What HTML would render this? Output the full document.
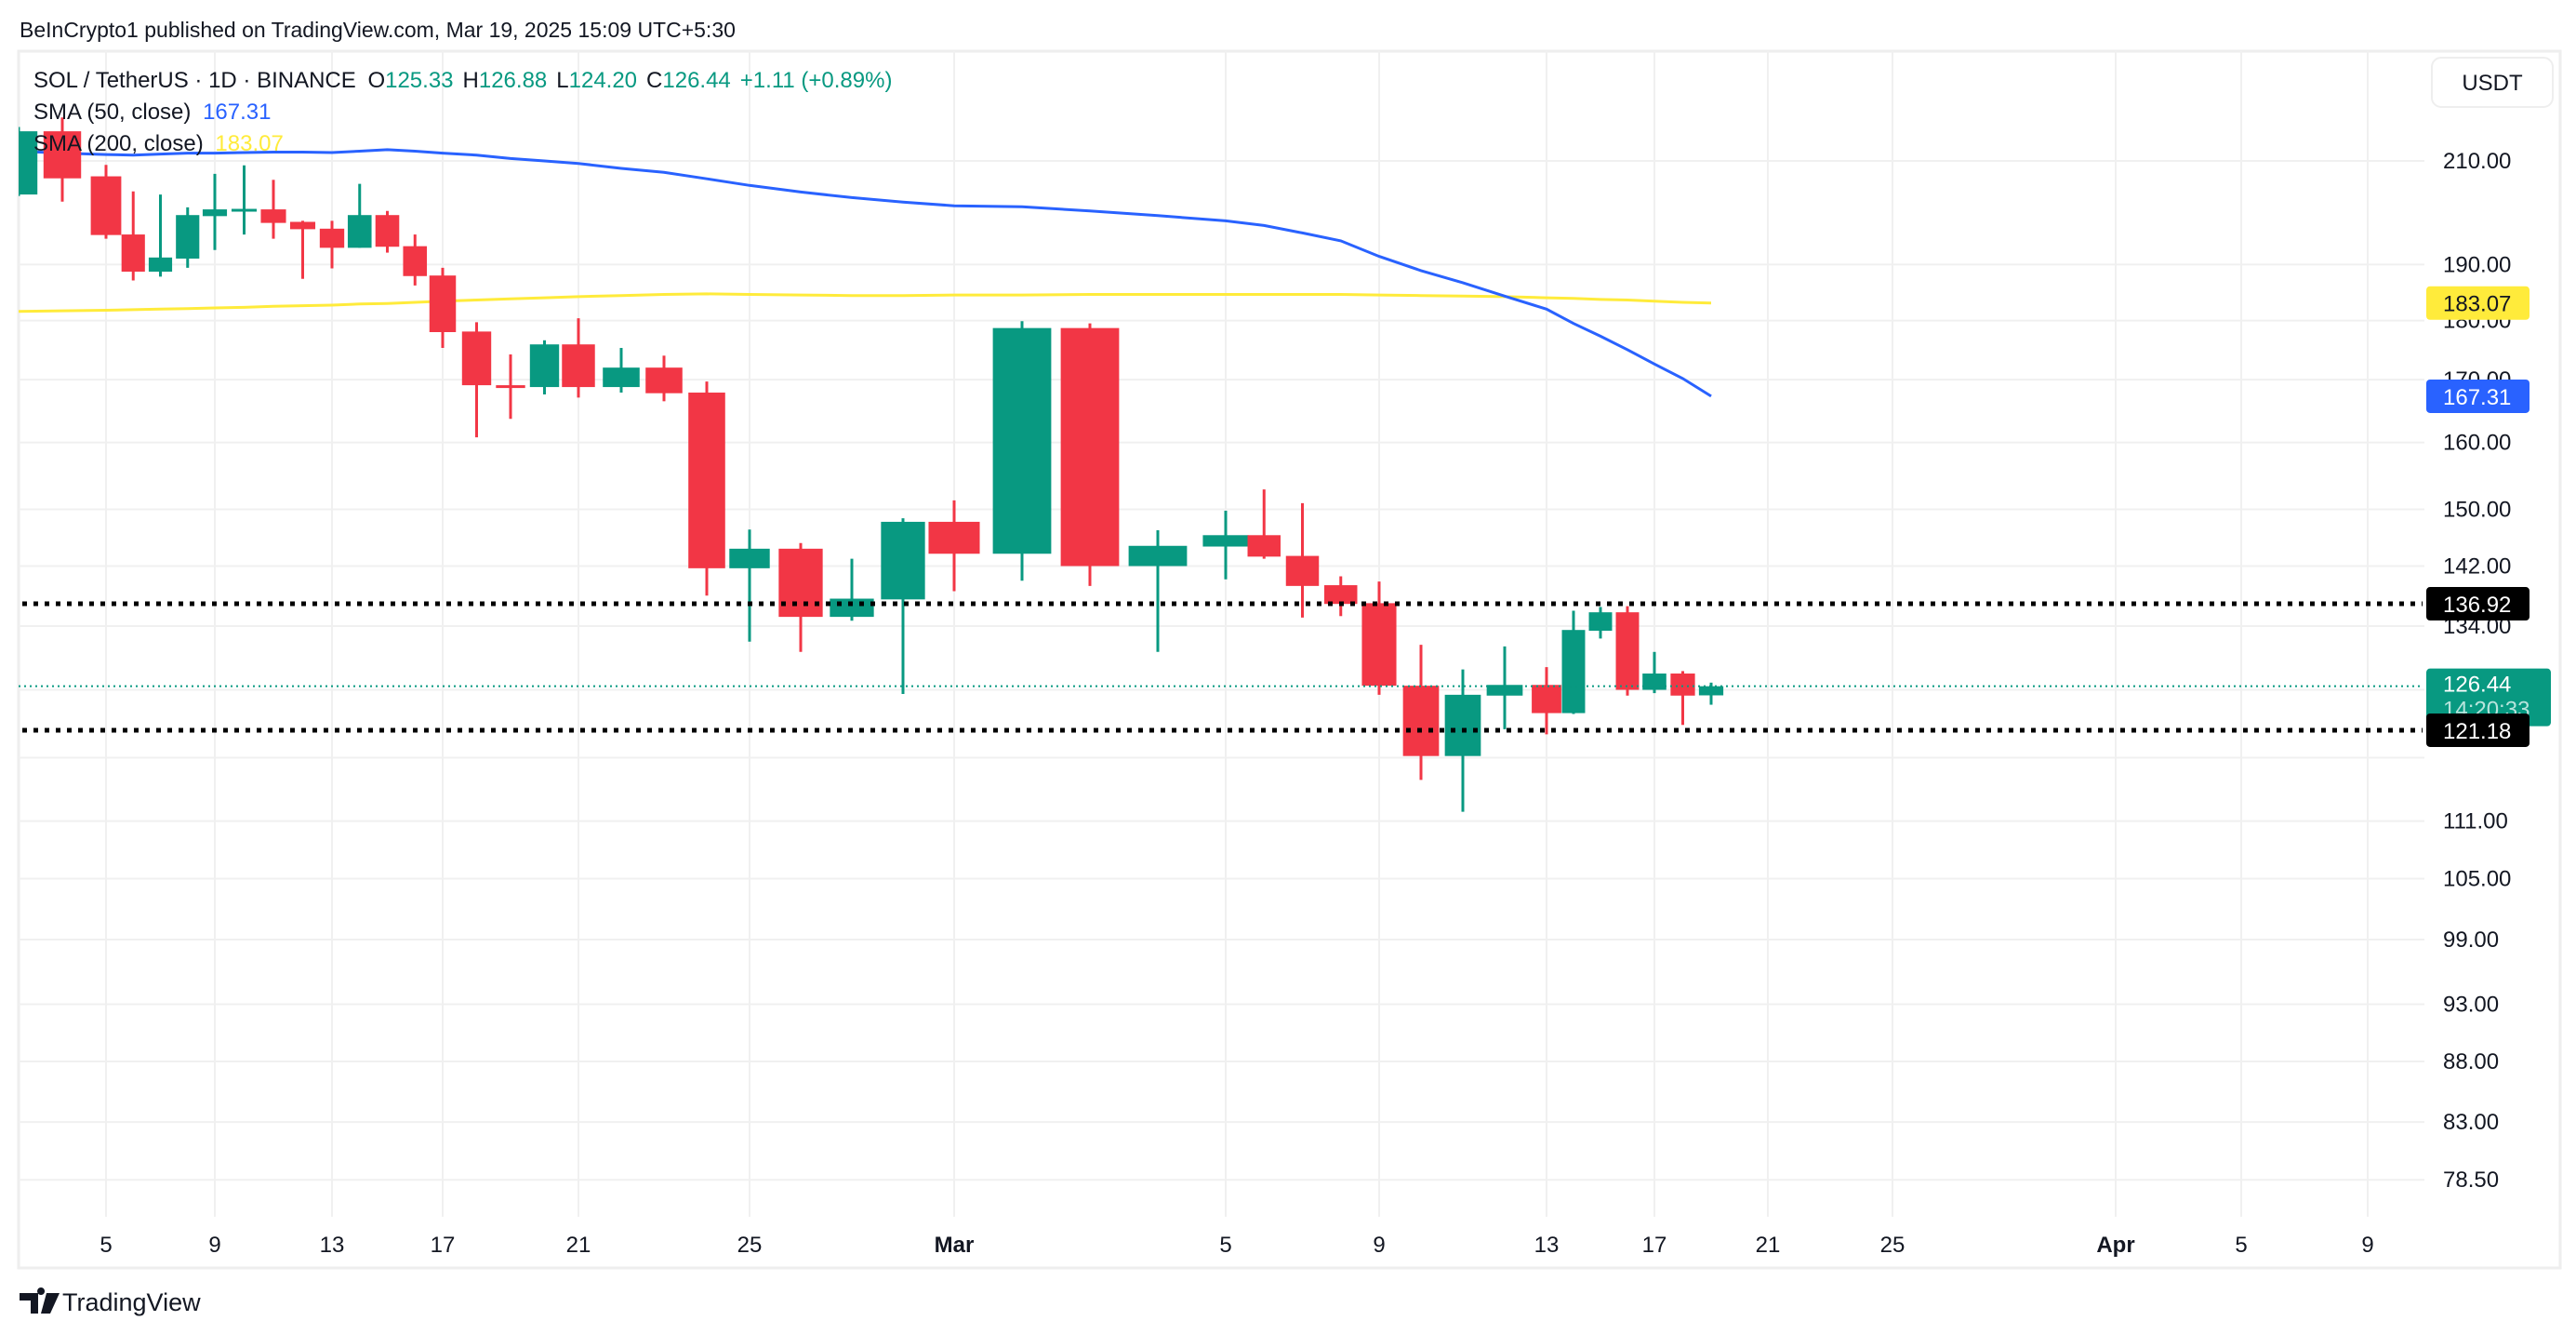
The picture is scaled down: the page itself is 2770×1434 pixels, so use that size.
<!DOCTYPE html>
<html><head><meta charset="utf-8">
<style>
html,body{margin:0;padding:0;background:#fff;width:2770px;height:1434px;overflow:hidden}
svg{display:block;font-family:"Liberation Sans",sans-serif}
</style></head>
<body>
<svg id="chart" width="2770" height="1434" viewBox="0 0 2770 1434" xmlns="http://www.w3.org/2000/svg">
<defs><clipPath id="plotclip"><rect x="20" y="55" width="2590" height="1253"/></clipPath></defs>
<rect x="20" y="55" width="2733" height="1308" fill="#fff" stroke="#eeeeee" stroke-width="3"/>
<g id="grid"></g>
<g id="smas" clip-path="url(#plotclip)"></g>
<g id="candles" clip-path="url(#plotclip)"></g>
<g id="levels"></g>
<g id="axes"></g>
<text x="21" y="40" font-size="23" fill="#131722">BeInCrypto1 published on TradingView.com, Mar 19, 2025 15:09 UTC+5:30</text>
<g font-size="24">
<text x="36" y="94" fill="#131722">SOL / TetherUS · 1D · BINANCE <tspan dx="6">O</tspan><tspan fill="#089981">125.33</tspan><tspan dx="10">H</tspan><tspan fill="#089981">126.88</tspan><tspan dx="10">L</tspan><tspan fill="#089981">124.20</tspan><tspan dx="10">C</tspan><tspan fill="#089981">126.44</tspan><tspan dx="10" fill="#089981">+1.11 (+0.89%)</tspan></text>
<text x="36" y="128" fill="#131722">SMA (50, close) <tspan dx="6" fill="#2962ff">167.31</tspan></text>
<text x="36" y="162" fill="#131722">SMA (200, close) <tspan dx="6" fill="#ffeb3b">183.07</tspan></text>
</g>
<rect x="2615" y="62" width="130" height="53" rx="10" fill="#fff" stroke="#eeeeee" stroke-width="2"/>
<text x="2680" y="97" text-anchor="middle" font-size="24" fill="#131722">USDT</text>
<g>
<path d="M21 1390h20v22h-8v-14h-12z M44 1392a4 4 0 1 1 0.1 0z M50 1390h14l-10 22h-10z" fill="#131722"/>
<text x="67" y="1409" font-size="27" fill="#131722">TradingView</text>
</g>
</svg>
<script>
const dates = ["Feb 3","Feb 4","Feb 5","Feb 6","Feb 7","Feb 8","Feb 9","Feb 10","Feb 11","Feb 12","Feb 13","Feb 14","Feb 15","Feb 16","Feb 17","Feb 18","Feb 19","Feb 20","Feb 21","Feb 22","Feb 23","Feb 24","Feb 25","Feb 26","Feb 27","Feb 28","Mar 1","Mar 2","Mar 3","Mar 4","Mar 5","Mar 6","Mar 7","Mar 8","Mar 9","Mar 10","Mar 11","Mar 12","Mar 13","Mar 14","Mar 15","Mar 16","Mar 17","Mar 18","Mar 19"];
const opens  = [203.3,216.1,206.9,195.6,188.7,191.1,199.1,200.2,200.4,198.0,196.7,193.1,199.3,193.4,188.0,178.1,169.1,168.8,175.9,168.8,172.0,167.9,141.7,144.4,135.2,137.5,148.2,143.7,178.7,142.0,144.7,146.3,143.4,139.4,137.0,126.5,118.2,125.3,126.6,123.2,133.4,135.8,126.0,128.0,125.33];
const highs  = [217.0,219.0,209.2,203.9,203.3,200.8,207.4,209.1,206.2,198.2,198.2,205.4,200.1,195.6,189.4,179.7,174.2,176.6,180.4,175.3,174.0,169.7,147.1,145.2,143.0,148.7,151.3,179.9,179.5,147.0,149.8,152.9,150.9,140.6,139.9,131.6,128.5,131.4,128.8,136.0,136.5,136.6,130.7,128.3,126.88];
const lows   = [203.0,201.9,194.8,187.1,187.8,189.4,192.7,195.6,194.8,187.4,189.3,193.1,192.2,186.2,175.3,160.8,163.7,167.6,167.1,167.9,166.5,138.0,132.0,130.7,134.7,125.5,138.6,140.0,139.3,130.7,140.2,143.0,135.1,135.3,125.4,115.5,112.0,121.3,120.7,123.1,132.4,125.3,125.6,121.8,124.20];
const closes = [216.1,206.5,195.5,188.7,191.3,199.3,200.4,200.5,197.8,196.6,193.1,199.3,193.3,187.9,178.0,169.1,168.8,175.9,168.8,172.0,167.8,141.7,144.4,135.2,137.6,148.2,143.7,178.7,142.0,144.8,146.3,143.3,139.3,136.9,126.5,118.2,125.4,126.6,123.2,133.5,135.8,126.0,128.0,125.3,126.44];
const sma50  = [212.0,211.6,211.3,211.2,211.4,211.6,211.6,211.7,211.8,211.8,211.7,212.0,212.3,212.0,211.6,211.2,210.5,210.0,209.5,208.5,207.7,206.4,205.1,203.8,202.7,201.8,201.1,200.9,200.1,199.2,198.2,197.3,195.9,194.4,191.5,188.9,186.7,184.3,182.0,179.5,177.3,175.0,172.6,170.2,167.31];
const sma200 = [181.6,181.7,181.8,181.9,182.0,182.1,182.2,182.3,182.5,182.6,182.7,182.9,183.0,183.2,183.4,183.6,183.8,184.0,184.2,184.4,184.6,184.7,184.6,184.5,184.4,184.4,184.5,184.5,184.6,184.6,184.6,184.6,184.6,184.6,184.5,184.4,184.3,184.2,184.0,183.9,183.7,183.6,183.4,183.2,183.07];
const priceTicks = [210,190,180,170,160,150,142,134,126,118,111,105,99,93,88,83,78.5];
const hiddenPriceTicks = [126,118];
const dateTickLabels = ["5","9","13","17","21","25","Mar","5","9","13","17","21","25","Apr","5","9"];
const dateTickDays = [2,6,10,14,18,22,26,30,34,38,42,46,50,57,61,65];
const levelPrices = [136.92,121.18];
const lastPrice = 126.44;

const xDomain = [0,2,6,10,14,18,22,26,30,34,38,42,46,50,57,61,65];
const xRange  = [20,114,231,357,476,622,806,1026,1318,1483,1663,1779,1901,2035,2275,2410,2546];
function xOf(d){
  for(let i=0;i<xDomain.length-1;i++){
    if(d<=xDomain[i+1]||i===xDomain.length-2){
      const t=(d-xDomain[i])/(xDomain[i+1]-xDomain[i]);
      return xRange[i]+t*(xRange[i+1]-xRange[i]);
    }
  }
}
function yOf(p){ return 173 + 1113*Math.log(210/p); }
const NS="http://www.w3.org/2000/svg";
function mk(tag,attrs,parent){const e=document.createElementNS(NS,tag);for(const k in attrs)e.setAttribute(k,attrs[k]);parent.appendChild(e);return e;}

const grid=document.getElementById('grid');
const axes=document.getElementById('axes');
priceTicks.forEach(p=>{
  const y=yOf(p);
  const l=mk('line',{x1:20,x2:2607,y1:y,y2:y,stroke:'#f0f0f0','stroke-width':2},grid);
  
  
  if(hiddenPriceTicks.indexOf(p)>=0) return;
  const t=mk('text',{x:2627,y:y+8,'font-size':24,fill:'#131722'},axes);
  t.textContent=p.toFixed(2);
  
  
});
dateTickDays.forEach((d,i)=>{
  const x=xOf(d);
  const l=mk('line',{x1:x,x2:x,y1:55,y2:1308,stroke:'#f0f0f0','stroke-width':2},grid);
  
  
  const lab=dateTickLabels[i];
  const bold=isNaN(+lab);
  const t=mk('text',{x:x,y:1346,'font-size':24,'text-anchor':'middle',fill:'#131722','font-weight':bold?'bold':'normal'},axes);
  t.textContent=lab;
  
  
});

const smas=document.getElementById('smas');
function linePath(vals){return vals.map((v,i)=>(i?'L':'M')+xOf(i).toFixed(1)+' '+yOf(v).toFixed(1)).join(' ');}
const s200=mk('path',{d:linePath(sma200),fill:'none',stroke:'#ffeb3b','stroke-width':3},smas);


const s50=mk('path',{d:linePath(sma50),fill:'none',stroke:'#2962ff','stroke-width':3},smas);



const cg=document.getElementById('candles');
dates.forEach((dt,i)=>{
  const x=xOf(i);
  const sp=(xOf(i+1)-xOf(Math.max(i-1,0)))/(i===0?1:2);
  const w=Math.max(sp*0.86,6);
  const up=closes[i]>=opens[i];
  const col=up?'#089981':'#f23645';
  const g=mk('g',{},cg);
  
  
  mk('line',{x1:x,x2:x,y1:yOf(highs[i]),y2:yOf(lows[i]),stroke:col,'stroke-width':3},g);
  const top=yOf(Math.max(opens[i],closes[i])), bot=yOf(Math.min(opens[i],closes[i]));
  mk('rect',{x:x-w/2,y:top,width:w,height:Math.max(bot-top,3),fill:col},g);
});

const lv=document.getElementById('levels');
levelPrices.forEach(p=>{
  const y=yOf(p);
  const l=mk('line',{x1:24,x2:2605,y1:y,y2:y,stroke:'#000','stroke-width':5,'stroke-dasharray':'5 7'},lv);
  
  
});
const ly=yOf(lastPrice);
const ll=mk('line',{x1:20,x2:2605,y1:ly,y2:ly,stroke:'#089981','stroke-width':2,'stroke-dasharray':'2 4'},lv);



function badge(p,bg,fg,name,w,extra){
  const y=yOf(p);
  const h=extra?62:36;
  const top=extra?y-19:y-18;
  const r=mk('rect',{x:2609,y:top,width:w,height:h,rx:4,fill:bg},axes);
  
  
  const t=mk('text',{x:2627,y:top+(extra?25:27),'font-size':24,fill:fg},axes);
  t.textContent=p.toFixed(2);
  
  
  if(extra){
    const t2=mk('text',{x:2627,y:top+52,'font-size':24,fill:'#b7e4dc'},axes);
    t2.textContent=extra;
    
    
  }
}
badge(sma200[sma200.length-1],'#ffeb3b','#131722','sma200-badge',111);
badge(sma50[sma50.length-1],'#2962ff','#fff','sma50-badge',111);
badge(levelPrices[0],'#000','#fff','level-badge-high',111);
badge(lastPrice,'#089981','#fff','last-price-badge',134,'14:20:33');
badge(levelPrices[1],'#000','#fff','level-badge-low',111);
</script>
</body></html>
